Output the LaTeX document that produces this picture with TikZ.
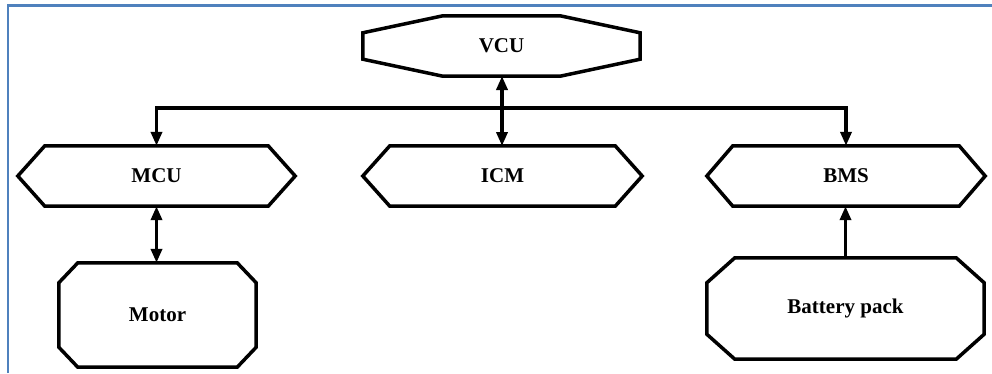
\documentclass[tikz,border=0pt]{standalone}
\usepackage{fontspec}
\setmainfont{Liberation Serif}
\usetikzlibrary{calc,arrows.meta}
\definecolor{frameblue}{RGB}{79,129,189}
\tikzset{
  lbl/.style={inner sep=0pt, font=\fontsize{21}{25}\selectfont\bfseries},
  shapeline/.style={draw=black, line width=3.5pt, line join=miter},
  conn/.style={draw=black, line width=3.5pt},
  tip/.style={-{Triangle[length=14pt,width=11pt]}},
  tips/.style={{Triangle[length=14pt,width=11pt]}-{Triangle[length=14pt,width=11pt]}},
}
\newcommand\cutbox[3]{\draw[shapeline] ($(#1.north west)+(#2,0)$) -- ($(#1.north east)+(-#2,0)$) -- ($(#1.north east)+(0,#3)$) -- ($(#1.south east)+(0,-#3)$) -- ($(#1.south east)+(-#2,0)$) -- ($(#1.south west)+(#2,0)$) -- ($(#1.south west)+(0,-#3)$) -- ($(#1.north west)+(0,#3)$) -- cycle;}
\newcommand\hexbox[2]{\draw[shapeline] ($(#1.north west)+(#2,0)$) -- ($(#1.north east)+(-#2,0)$) -- (#1.east) -- ($(#1.south east)+(-#2,0)$) -- ($(#1.south west)+(#2,0)$) -- (#1.west) -- cycle;}
\begin{document}
\begin{tikzpicture}[x=1pt,y=-1pt]
\useasboundingbox (0,0) rectangle (992,373);
% frame
\draw[frameblue, line width=2.5pt] (8,373) -- (8,5.5) -- (992,5.5);
% nodes
\node[lbl, minimum width=277pt, minimum height=60pt] (vcu) at (501.5,46) {VCU};
\node[lbl, minimum width=277pt, minimum height=60pt] (mcu) at (156.5,176) {MCU};
\node[lbl, minimum width=279pt, minimum height=60pt] (icm) at (502.5,176) {ICM};
\node[lbl, minimum width=278pt, minimum height=60pt] (bms) at (846,176) {BMS};
\node[lbl, minimum width=197pt, minimum height=104pt] (motor) at (157.5,315) {Motor};
\node[lbl, minimum width=277pt, minimum height=101pt] (battery) at (845.5,308.5) {Battery pack};
% outlines
\cutbox{vcu}{80}{17}
\hexbox{mcu}{27}
\hexbox{icm}{27}
\hexbox{bms}{26}
\cutbox{motor}{19}{20}
\cutbox{battery}{28}{25}
% connectors
\coordinate (bus) at (502,108);
\draw[conn, tips] (502,76) -- (502,146);
\draw[conn, tip] (bus) -| (mcu.north);
\draw[conn, tip] (bus) -| (bms.north);
\draw[conn, tips] (mcu.south) -- (mcu.south |- motor.north);
\draw[conn, tip] (battery.north) -- (battery.north |- bms.south);
\end{tikzpicture}
\end{document}
